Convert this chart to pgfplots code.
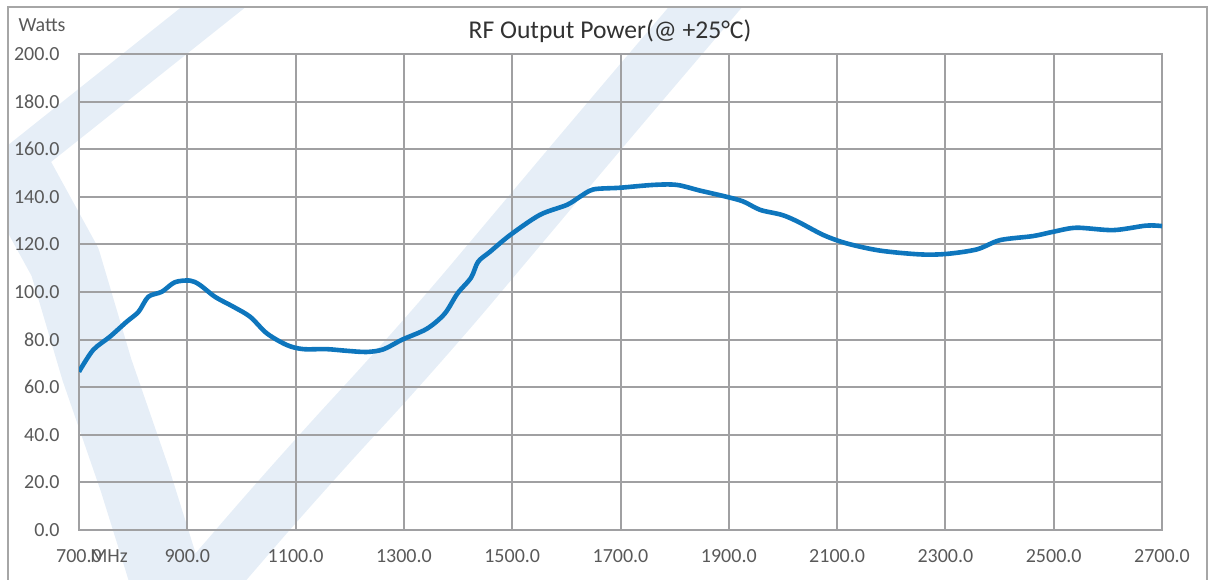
\documentclass[border=0pt]{standalone}
\usepackage{pgfplots}
\pgfplotsset{compat=1.18}
\usepackage{fontspec}
\setmainfont{Carlito}
\definecolor{gridc}{RGB}{160,160,162}
\definecolor{labc}{RGB}{89,89,89}
\definecolor{linec}{RGB}{14,118,189}
\definecolor{borderc}{RGB}{166,166,166}
\definecolor{wmark}{RGB}{230,238,247}
\begin{document}
\begin{tikzpicture}
\useasboundingbox (0,0) rectangle (606.5bp,290bp);
% faint background watermark bands
\begin{scope}
\clip (4bp,0bp) rectangle (603.5bp,286.5bp);
\begin{scope}[shift={(0bp,290bp)}, x=0.5bp, y=-0.5bp, line cap=round, line join=round]
\draw[wmark, line width=20bp] (235,-10) -- (-10,185);
\draw[wmark, line width=36bp] (20,180) -- (65,262) -- (97,370) -- (135,480) -- (160,560) -- (175,610);
\draw[wmark, line width=28bp, rounded corners=40bp] (175,620) -- (300,475) -- (420,345) -- (605,125) -- (720,-10);
\end{scope}
\end{scope}
\draw[borderc, line width=1bp] (4bp,-10bp) rectangle (603.5bp,286.5bp);
\begin{axis}[
  at={(39.5bp,25bp)}, anchor=south west,
  scale only axis, width=541.5bp, height=238bp,
  xmin=700, xmax=2700, ymin=0, ymax=200,
  xtick={700,900,...,2700}, ytick={0,20,...,200},
  grid=major, major grid style={gridc, line width=1bp},
  axis line style={gridc, line width=1bp},
  major tick length=0pt,
  tick label style={font=\fontsize{10bp}{12bp}\selectfont, text=labc, inner sep=0pt},
  xticklabel style={anchor=base, yshift=-16bp},
  yticklabel style={anchor=east, xshift=-9.5bp},
  /pgf/number format/.cd, fixed, fixed zerofill, precision=1, 1000 sep={}, assume math mode=true,
]
\addplot[linec, line width=2.3bp, smooth, tension=0.5] coordinates {
(700,66.5)(726,75.6)(757,81.2)(788,87.5)(810,91.7)(828,98)(853,100.1)(877,104.1)(905,104.8)(923,103)(951,98)(985,93.8)(1016,89.6)(1047,82.6)(1084,77.7)(1114,76)(1157,76)(1194,75.3)(1231,74.8)(1262,75.9)(1297,80)(1342,84.5)(1375,90.8)(1399,99.4)(1424,106)(1437,112.7)(1459,116.9)(1496,123.9)(1551,132.4)(1601,136.6)(1625,140)(1650,143.1)(1699,143.8)(1761,145)(1804,145)(1847,142.6)(1896,140)(1927,138)(1958,134.5)(1998,132.4)(2028,129.5)(2075,123.9)(2118,120.4)(2179,117.4)(2253,115.8)(2302,116)(2358,117.9)(2401,121.8)(2462,123.5)(2499,125.3)(2542,127)(2610,126)(2671,127.9)(2700,127.7)
};
\end{axis}
\node[font=\fontsize{12.8bp}{15bp}\selectfont, text={rgb,255:red,50;green,50;blue,50}] at (305bp,274.5bp) {RF Output Power(@ +25°C)};
\node[font=\fontsize{10bp}{12bp}\selectfont, text=labc] at (21bp,277.5bp) {Watts};
\node[font=\fontsize{10bp}{12bp}\selectfont, text=labc, anchor=base, inner sep=0pt] at (54.5bp,9bp) {MHz};
\end{tikzpicture}
\end{document}
